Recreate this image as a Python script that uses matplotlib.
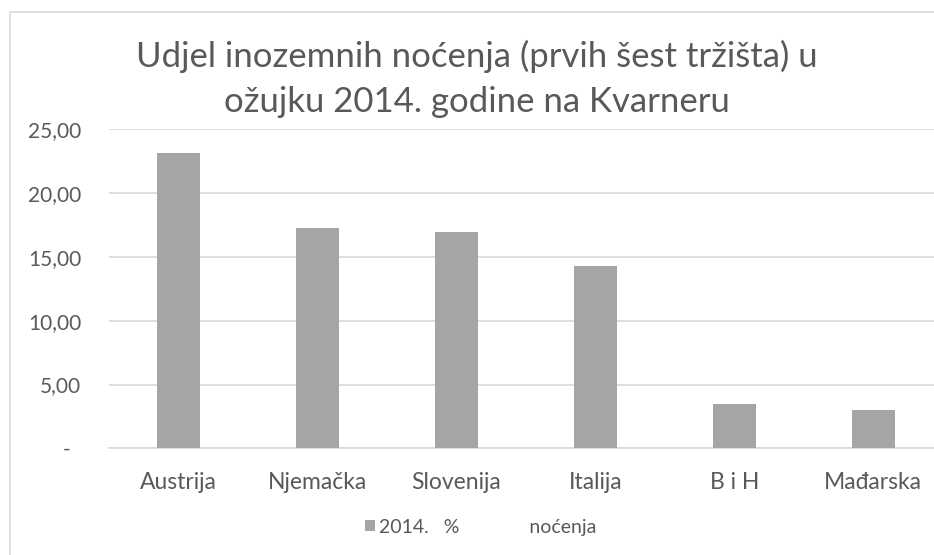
import matplotlib.pyplot as plt
from matplotlib.patches import Rectangle
from matplotlib.ticker import FuncFormatter

# Podaci
trzista = ['Austrija', 'Njemačka', 'Slovenija', 'Italija', 'B i H', 'Mađarska']
udjel_2014 = [23.17, 17.24, 16.93, 14.29, 3.50, 3.03]
y_ticks = [0, 5, 10, 15, 20, 25]

naslov = 'Udjel inozemnih noćenja (prvih šest tržišta) u\nožujku 2014. godine na Kvarneru'
legenda = '2014.   %              noćenja'

plt.rcParams['font.family'] = ['Lato', 'DejaVu Sans']
siva_tekst = '#595959'

W, H = 934, 555
fig = plt.figure(figsize=(W / 100, H / 100), dpi=100)

# okvir grafikona (desno i dolje je odrezan)
fig.patches.append(Rectangle((9.5 / W, -0.1), 1.2, (H - 12) / H + 0.1,
                             transform=fig.transFigure, fill=False,
                             edgecolor='#d9d9d9', linewidth=1.2))

ax = fig.add_axes([109 / W, 106.7 / H, 833.6 / W, 319 / H])

x = range(len(trzista))
ax.bar(x, udjel_2014, width=0.31, color='#a5a5a5', label=legenda, zorder=3)

ax.set_xlim(-0.5, len(trzista) - 0.5)
ax.set_ylim(0, 25)
ax.set_yticks(y_ticks)
ax.yaxis.set_major_formatter(FuncFormatter(
    lambda v, p: '-  ' if v == 0 else f'{v:.2f}'.replace('.', ',')))
ax.set_xticks(list(x))
ax.set_xticklabels(trzista)

ax.grid(axis='y', color='#d9d9d9', linewidth=1.2, zorder=0)
for s in ['top', 'right', 'left']:
    ax.spines[s].set_visible(False)
ax.spines['bottom'].set_color('#d9d9d9')
ax.spines['bottom'].set_linewidth(1.2)
ax.tick_params(axis='both', length=0, labelcolor=siva_tekst)
ax.tick_params(axis='y', pad=20, labelsize=15)
ax.tick_params(axis='x', pad=17, labelsize=16.5)

# naslov u dva reda
for i, red in enumerate(naslov.split('\n')):
    fig.text(477 / W, 1 - (67 + 45 * i) / H, red, ha='center', va='baseline',
             fontsize=25, color=siva_tekst)

fig.legend(loc='center left', bbox_to_anchor=(365 / W, 1 - 527 / H),
           frameon=False, fontsize=14, labelcolor=siva_tekst,
           borderpad=0, borderaxespad=0,
           handlelength=0.5, handleheight=0.5, handletextpad=0.2)

fig.savefig('out.png', dpi=100)
